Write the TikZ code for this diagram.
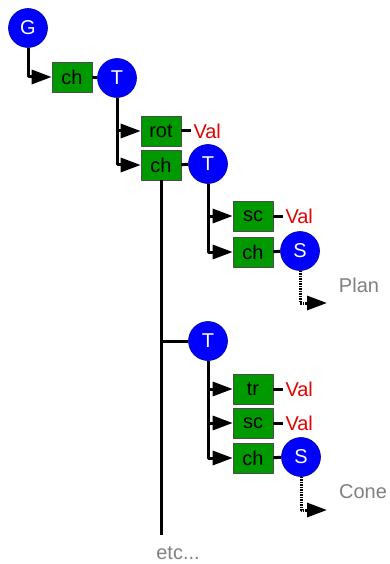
\documentclass[tikz,border=0pt]{standalone}
\usepackage{fontspec}
\setmainfont{Liberation Sans}
\usetikzlibrary{arrows.meta}
\definecolor{nodegreen}{RGB}{0,153,0}
\definecolor{nodeblue}{RGB}{0,0,255}
\definecolor{valred}{RGB}{230,0,0}
\definecolor{notegray}{RGB}{128,128,128}
\begin{document}
\begin{tikzpicture}[x=1pt, y=-1pt, line join=round, >={Triangle[length=20pt,width=14pt]},
	grp/.style={circle, fill=nodeblue, draw=blue!60!black, line width=0.6pt, minimum size=39pt, inner sep=0pt, text=white, font=\fontsize{20}{24}\selectfont},
	fld/.style={rectangle, fill=nodegreen, draw=black!70, line width=0.6pt, minimum width=40pt, minimum height=30pt, inner sep=0pt, font=\fontsize{20}{24}\selectfont},
	val/.style={text=valred, inner sep=2pt, anchor=west, font=\fontsize{20}{24}\selectfont},
	note/.style={text=notegray, font=\fontsize{20}{24}\selectfont},
	link/.style={line width=3pt},
	deref/.style={line width=3pt, dash pattern=on 1.5pt off 1pt}]
	\useasboundingbox (0,0) rectangle (389,564);
	\node[grp] (G) at (28,28) {G};
	\node[fld] (chA) at (72,77) {ch};
	\node[grp] (T1) at (117,78) {T};
	\node[fld] (rot) at (161,131) {rot};
	\node[fld] (chB) at (161,165) {ch};
	\node[grp] (T2) at (208,164) {T};
	\node[fld] (scA) at (253,216) {sc};
	\node[fld] (chC) at (253,252) {ch};
	\node[grp] (SA) at (300,251) {S};
	\node[grp] (T3) at (208,341) {T};
	\node[fld] (tr) at (253,389) {tr};
	\node[fld] (scB) at (253,423) {sc};
	\node[fld] (chD) at (253,458) {ch};
	\node[grp] (SB) at (301,457) {S};
	\foreach \f/\v in {rot/valRot, scA/valScA, tr/valTr, scB/valScB}{\node[val] (\v) at ([xshift=10pt]\f.east) {Val}; \draw[link] (\f) -- (\v);};
	\coordinate (etcEnd) at (161,535);
	\coordinate (planTip) at (327,303);
	\coordinate (coneTip) at (327,510);
	\draw[link,->] (G) |- (chA);
	\draw[link] (chA) -- (T1);
	\draw[link,->] (T1) |- (rot);
	\draw[link,->] (T1) |- (chB);
	\draw[link] (chB) -- (T2);
	\draw[link] (chB) -- (etcEnd);
	\draw[link,->] (T2) |- (scA);
	\draw[link,->] (T2) |- (chC);
	\draw[link] (chC) -- (SA);
	\draw[deref,->] (SA) |- (planTip);
	\draw[link] (T3) -- (T3 -| etcEnd);
	\draw[link,->] (T3) |- (tr);
	\draw[link,->] (T3) |- (scB);
	\draw[link,->] (T3) |- (chD);
	\draw[link] (chD) -- (SB);
	\draw[deref,->] (SB) |- (coneTip);
	\node[note] (plan) at (359,285) {Plan};
	\node[note] (cone) at (363,492) {Cone};
	\node[note] (etc) at (178,553) {etc...};
\end{tikzpicture}
\end{document}
